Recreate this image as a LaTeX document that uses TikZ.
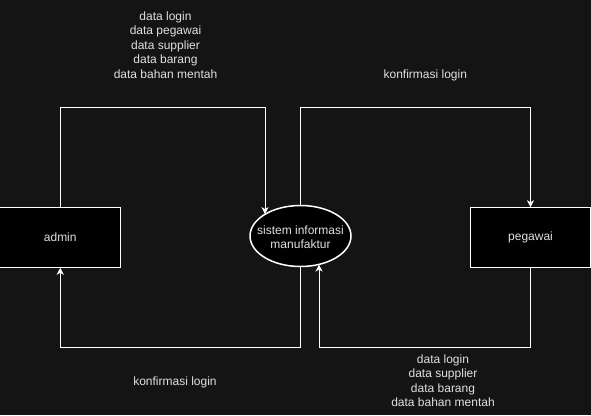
\documentclass[tikz,border=0pt]{standalone}
\usepackage{fontspec}
\setmainfont{Liberation Sans}
\usetikzlibrary{arrows.meta,shapes.geometric}
\definecolor{bgc}{RGB}{20,20,20}
\definecolor{txc}{RGB}{224,224,224}
\tikzset{
  entity/.style={draw=white,line width=1bp,fill=black,minimum width=120.5bp,minimum height=60.5bp,inner sep=0pt,outer sep=0pt,text=txc,font=\fontsize{12bp}{14.4bp}\selectfont},
  proc/.style={draw=white,line width=1.5bp,fill=black,ellipse,minimum width=101bp,minimum height=61bp,inner sep=0pt,outer sep=0pt},
  lbl/.style={text=txc,align=center,inner sep=0pt,font=\fontsize{12bp}{14.4bp}\selectfont},
  flow/.style={draw=white,line width=1bp,-{Stealth[length=7bp,width=7bp,inset=2bp]}}
}
\begin{document}
\begin{tikzpicture}[x=1bp,y=-1bp]
\fill[bgc] (0,0) rectangle (591,415);
\useasboundingbox (0,0) rectangle (591,415);
\node[entity] (admin) at (60.25,237.5) {admin};
\node[entity] (peg) at (530.5,237.5) {pegawai};
\node[proc] (sys) at (300.5,236) {};
\node[lbl] (systxt) at (300.5,237) {sistem informasi\\manufaktur};
\coordinate (a1) at (265,107.5);
\coordinate (a2) at (530.5,107.5);
\coordinate (b1) at (319,347.5);
\coordinate (b2) at (60.25,347.5);
\draw[flow] (admin.north) |- (a1) -- (a1 |- sys.148.6);
\draw[flow] (sys.north) |- (a2) -- (peg.north);
\draw[flow] (peg.south) |- (b1) -- (b1 |- sys.-58.2);
\draw[flow] (sys.south) |- (b2) -- (admin.south);
\node[lbl] (l1) at (165.5,45) {data login\\data pegawai\\data supplier\\data barang\\data bahan mentah};
\node[lbl] (l2) at (425.3,75) {konfirmasi login};
\node[lbl] (l3) at (175,382) {konfirmasi login};
\node[lbl] (l4) at (443,380.5) {data login\\data supplier\\data barang\\data bahan mentah};
\end{tikzpicture}
\end{document}
